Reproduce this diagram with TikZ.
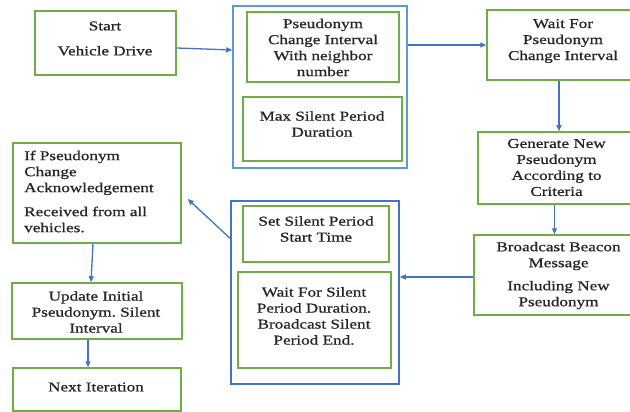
\documentclass[tikz,border=0pt]{standalone}
\usepackage{fontspec}
\setmainfont{Liberation Serif}[FakeStretch=1.27,FakeBold=0.8]
\usetikzlibrary{arrows.meta,calc}
\definecolor{grn}{RGB}{112,173,71}
\definecolor{blu}{RGB}{68,114,196}
\definecolor{lblu}{RGB}{91,155,213}
\frenchspacing
\begin{document}
\begin{tikzpicture}[x=1pt,y=-1pt,
  box/.style={draw=grn,line width=1.5pt,inner sep=0pt},
  grp/.style={draw=blu,line width=1.5pt,inner sep=0pt},
  txt/.style={font=\fontsize{13.5}{16}\selectfont,align=center,inner sep=0pt,text=black!85},
  arr/.style={draw=blu,line width=1.3pt,-{Triangle[length=6pt,width=5pt]}}]
\fill[white] (0,0) rectangle (630,412);
\useasboundingbox (0,0) rectangle (630,412);

% groups
\node[grp,draw=lblu,minimum width=174pt,minimum height=162pt] (g1) at (320,87) {};
\node[grp,minimum width=168pt,minimum height=183pt] (g2) at (315,292.5) {};

% boxes
\node[box,minimum width=141pt,minimum height=64pt] (start) at (105.5,43) {};
\node[box,minimum width=152pt,minimum height=70pt] (pci) at (323,47) {};
\node[box,minimum width=159pt,minimum height=64pt] (maxs) at (322.5,129) {};
\node[box,minimum width=144pt,minimum height=70pt] (wait) at (559,45) {};
\node[box,minimum width=153pt,minimum height=72pt] (gen) at (554.5,168) {};
\node[box,minimum width=157pt,minimum height=80pt] (bcast) at (552.5,275) {};
\node[box,minimum width=146pt,minimum height=56pt] (sets) at (316,234) {};
\node[box,minimum width=153pt,minimum height=96pt] (wsil) at (314.5,320) {};
\node[box,minimum width=168pt,minimum height=100pt] (ack) at (97,193) {};
\node[box,minimum width=170pt,minimum height=56pt] (upd) at (97,311) {};
\node[box,minimum width=168pt,minimum height=43pt] (next) at (97,389.5) {};

% texts
\node[txt] (start-t) at (105,38.5) {Start\\[9pt]Vehicle Drive};
\node[txt] (pci-t) at (323,47.5) {Pseudonym\\Change Interval\\With neighbor\\number};
\node[txt] (maxs-t) at (322,124) {Max Silent Period\\Duration};
\node[txt] (wait-t) at (563,41) {Wait For\\Pseudonym\\Change Interval};
\node[txt] (gen-t) at (556.5,167.5) {Generate New\\Pseudonym\\According to\\Criteria};
\node[txt] (bcast-t) at (558.5,275.5) {Broadcast Beacon\\Message\\[7pt]Including New\\Pseudonym};
\node[txt] (sets-t) at (316,229) {Set Silent Period\\Start Time};
\node[txt] (wsil-t) at (314,316) {Wait For Silent\\Period Duration.\\Broadcast Silent\\Period End.};
\node[txt,align=left,anchor=west] (ack-t) at (24,191.5) {If Pseudonym\\Change\\Acknowledgement\\[8pt]Received from all\\vehicles.};
\node[txt] (upd-t) at (96,312) {Update Initial\\Pseudonym. Silent\\Interval};
\node[txt] (next-t) at (96,387) {Next Iteration};

% arrows
\draw[arr] ($(start.east)+(0,5)$) -- ($(g1.west)+(0,-37)$);
\draw[arr] (g1.east |- wait.west) -- (wait.west);
\draw[arr] (wait.south) -- (wait.south |- gen.north);
\draw[arr] (gen.south) -- (gen.south |- bcast.north);
\draw[arr] ($(bcast.west)+(0,2)$) -- ($(bcast.west -| g2.east)+(0,2)$);
\draw[arr] ($(g2.west)+(0,-54)$) -- ($(ack.east)+(6,6)$);
\draw[arr] ($(ack.south)+(-4,0)$) -- ($(upd.north)+(-6,0)$);
\draw[arr] ($(upd.south)+(-9,0)$) -- ($(next.north)+(-9,0)$);
\end{tikzpicture}
\end{document}
